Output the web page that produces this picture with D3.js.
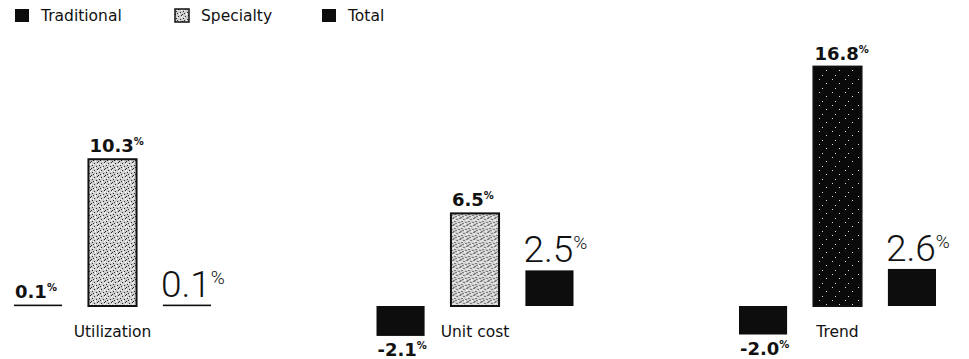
<!DOCTYPE html>
<html>
<head>
<meta charset="utf-8">
<script src="https://cdn.jsdelivr.net/npm/d3@7"></script>
<style>
  body { margin: 0; background: #fff; }
  svg { display: block; }
</style>
</head>
<body>
<svg class="viz"></svg>
<script>
var width = 969,
  height = 359;

// data (percent)
var groups = ["Utilization", "Unit cost", "Trend"];
var series = ["Traditional", "Specialty", "Total"];
var traditional = [0.1, -2.1, -2.0];
var specialty = [10.3, 6.5, 16.8];
var total = [0.1, 2.5, 2.6];

// fills per series (specialty in the trend group came out dark in the scan)
var fill_mapping = {
  "Traditional": "#0d0d0d",
  "Specialty": "url(#stipple)",
  "Total": "#0d0d0d"
};
var specialty_fill = {
  "Utilization": "url(#stipple)",
  "Unit cost": "url(#stipple)",
  "Trend": "url(#stippleDark)"
};

var rows = [];
groups.forEach(function(g, i) {
  rows.push({ group: g, key: "Traditional", value: traditional[i] });
  rows.push({ group: g, key: "Specialty", value: specialty[i] });
  rows.push({ group: g, key: "Total", value: total[i] });
});

var viz = d3.select(".viz")
  .attr("width", width)
  .attr("height", height);

// textures
var defs = viz.append("defs");
var p1 = defs.append("pattern")
  .attr("id", "stipple")
  .attr("width", 7).attr("height", 7)
  .attr("patternUnits", "userSpaceOnUse");
p1.append("rect").attr("width", 7).attr("height", 7).attr("fill", "#cfcfcf");
[[0, 0], [3, 2], [5, 5], [1, 4], [6, 1], [2, 6]].forEach(function(d) {
  p1.append("rect").attr("x", d[0]).attr("y", d[1]).attr("width", 1).attr("height", 1).attr("fill", "#2a2a2a");
});
[[4, 0], [0, 2], [2, 3], [6, 3], [4, 6]].forEach(function(d) {
  p1.append("rect").attr("x", d[0]).attr("y", d[1]).attr("width", 1).attr("height", 1).attr("fill", "#fff");
});
var p2 = defs.append("pattern")
  .attr("id", "stippleDark")
  .attr("width", 13).attr("height", 13)
  .attr("patternUnits", "userSpaceOnUse");
p2.append("rect").attr("width", 13).attr("height", 13).attr("fill", "#0a0a0a");
[[2, 1], [9, 5], [5, 10]].forEach(function(d) {
  p2.append("rect").attr("x", d[0]).attr("y", d[1]).attr("width", 1).attr("height", 1).attr("fill", "#e0e0e0");
});

// scales
var x0 = d3.scaleBand()
  .domain(groups)
  .range([14, 14 + 362.5 * groups.length]);

var x1 = d3.scaleBand()
  .domain(series)
  .range([0, 197])
  .paddingInner(0.354);

var y = d3.scaleLinear()
  .domain([-3, 17])
  .range([306 + 3 * 14.25, 306 - 17 * 14.25]);

// legend
var legend = viz.append("g").attr("class", "legend");
var legend_x = { "Traditional": 15, "Specialty": 175, "Total": 322 };
series.forEach(function(s) {
  var lg = legend.append("g").attr("transform", "translate(" + legend_x[s] + ",0)");
  lg.append("rect")
    .attr("x", 0).attr("y", 9)
    .attr("width", 14).attr("height", 13)
    .attr("fill", fill_mapping[s])
    .attr("stroke", s == "Specialty" ? "#111" : "none")
    .attr("stroke-width", 1.5);
  lg.append("text")
    .attr("x", 26).attr("y", 21)
    .attr("font-family", "DejaVu Sans")
    .attr("font-size", 15.5)
    .attr("fill", "#111")
    .text(s);
});

// bars
var gs = viz.selectAll("g.grp")
  .data(groups)
  .enter()
  .append("g")
  .attr("class", "grp")
  .attr("transform", function(d) {
    return "translate(" + x0(d) + ",0)";
  });

gs.selectAll("rect")
  .data(function(g) {
    return rows.filter(function(r) { return r.group == g; });
  })
  .enter()
  .append("rect")
  .attr("x", function(d) { return x1(d.key); })
  .attr("width", x1.bandwidth())
  .attr("y", function(d) { return y(Math.max(0, d.value)); })
  .attr("height", function(d) { return Math.max(1.6, Math.abs(y(d.value) - y(0))); })
  .attr("fill", function(d) {
    return d.key == "Specialty" ? specialty_fill[d.group] : fill_mapping[d.key];
  })
  .attr("stroke", function(d) { return d.key == "Specialty" ? "#111" : "none"; })
  .attr("stroke-width", 2);

// value labels
gs.selectAll("text.val")
  .data(function(g) {
    return rows.filter(function(r) { return r.group == g; });
  })
  .enter()
  .append("text")
  .attr("class", "val")
  .attr("fill", "#111")
  .attr("x", function(d) {
    return x1(d.key) + (d.key == "Total" ? -2 : 1);
  })
  .attr("y", function(d) {
    if (d.value < 0) return y(d.value) + 20;
    return y(d.value) - (d.key == "Total" ? 8 : 7);
  })
  .each(function(d) {
    var t = d3.select(this);
    if (d.key == "Total") {
      t.attr("font-family", "Roboto, 'Liberation Sans', sans-serif")
        .attr("font-weight", 300)
        .attr("font-size", 37);
      t.append("tspan").text(d3.format(".1f")(d.value));
      t.append("tspan").attr("font-size", 19).attr("dy", -13).text("%");
    } else {
      t.attr("font-family", "DejaVu Sans")
        .attr("font-weight", "bold")
        .attr("font-size", 18);
      t.append("tspan").text(d3.format(".1f")(d.value).replace("−", "-"));
      t.append("tspan").attr("font-size", 10).attr("dy", -7).text("%");
    }
  });

// category labels, centred under the specialty bar
gs.append("text")
  .attr("x", x1("Specialty") + x1.bandwidth() / 2)
  .attr("y", 337)
  .attr("text-anchor", "middle")
  .attr("font-family", "DejaVu Sans")
  .attr("font-size", 15.5)
  .attr("fill", "#111")
  .text(function(d) { return d; });
</script>
</body>
</html>
